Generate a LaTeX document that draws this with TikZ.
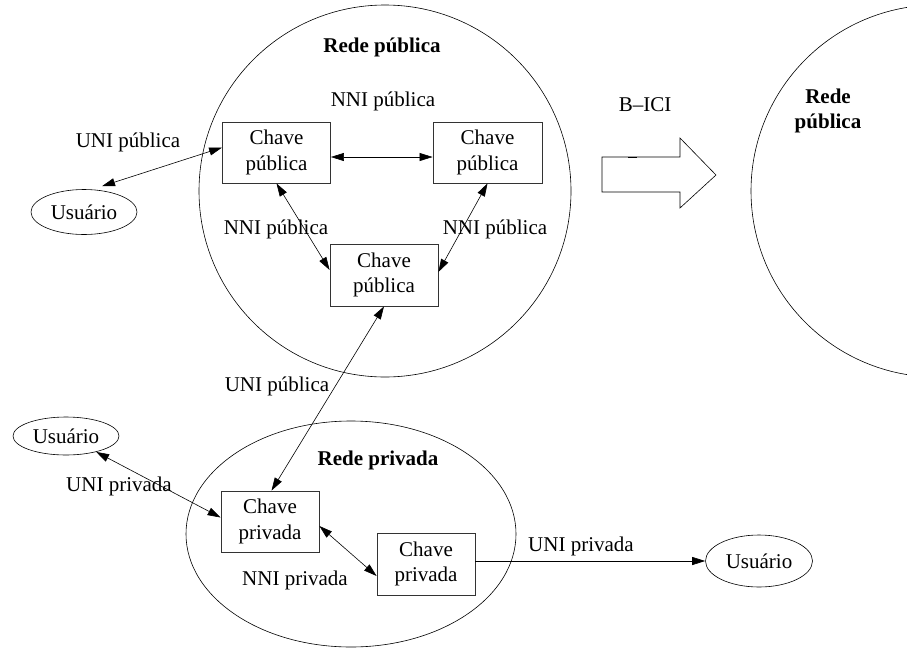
\documentclass[tikz,border=0pt]{standalone}
\usepackage{fontspec}
\setmainfont{Liberation Serif}
\usetikzlibrary{arrows.meta,shapes.geometric,calc}

\tikzset{
  txt/.style={font=\fontsize{21}{25.5}\selectfont, inner sep=0pt, align=center},
  bold/.style={txt, font=\fontsize{21}{25.5}\selectfont\bfseries},
  chave/.style={txt, draw=black!80, line width=0.8pt, rectangle, minimum height=61pt},
  user/.style={txt, draw, line width=0.6pt, ellipse, inner sep=0pt},
  net/.style={draw, line width=0.6pt, circle, minimum size=372pt, inner sep=0pt},
  tip/.tip={Triangle[length=13pt,width=8pt]},
  link/.style={line width=0.6pt, tip-tip},
  onelink/.style={line width=0.6pt, -tip}
}

\begin{document}
\begin{tikzpicture}[x=1pt, y=-1pt]
\useasboundingbox (0,0) rectangle (907,648);
\begin{scope}
\clip (0,0) rectangle (907,648);

% networks
\node[net] (pub) at (385,191) {};
\node[net] (pub2) at (937,191) {};
\node[draw, line width=0.6pt, ellipse, minimum width=330pt, minimum height=226pt, inner sep=0pt] (priv) at (351,534) {};

% switches
\node[chave, minimum width=108pt] (A) at (276.5,152.5) {Chave\\pública};
\node[chave, minimum width=109pt] (B) at (487.5,152.5) {Chave\\pública};
\node[chave, minimum width=108pt, minimum height=62pt] (C) at (384,275) {Chave\\pública};
\node[chave, minimum width=98pt] (D) at (270,521.5) {Chave\\privada};
\node[chave, minimum width=98pt, minimum height=62pt] (E) at (426,564) {Chave\\privada};

% users
\node[user, minimum width=106pt, minimum height=45pt] (U1) at (84,212) {Usuário};
\node[user, minimum width=106pt, minimum height=38pt] (U2) at (66,436) {Usuário};
\node[user, minimum width=107pt, minimum height=52pt] (U3) at (759,561) {Usuário};

% titles
\node[bold] (t1) at (382,47) {Rede pública};
\node[bold] (t2) at (828,111) {Rede\\pública};
\node[bold] (t3) at (378,460) {Rede privada};

% interface labels
\node[txt] (l1) at (383,101) {NNI pública};
\node[txt] (l2) at (128,142) {UNI pública};
\node[txt] (l3) at (276,229) {NNI pública};
\node[txt] (l4) at (495,229) {NNI pública};
\node[txt] (l5) at (277,386) {UNI pública};
\node[txt] (l6) at (119,486) {UNI privada};
\node[txt] (l7) at (295,580) {NNI privada};
\node[txt] (l8) at (581,546) {UNI privada};
\node[txt] (l9) at (645,105) {B–ICI};

% connections
\draw[link] ($(U1.north)+(18,-3)$) -- ($(A.west)+(0,-5)$);
\draw[link] ($(A.east)+(0,4.5)$) -- ($(B.west)+(0,4.5)$);
\draw[link] (A.south) -- ($(C.west)+(0,-5)$);
\draw[link] (B.south) -- ($(C.east)+(0,-3)$);
\draw[link] (C.south) -- ($(D.north)+(1.5,0)$);
\draw[link] (U2) -- ($(D.west)+(0,-4)$);
\draw[link] ($(D.east)+(0,4.5)$) -- ($(E.west)+(0,12)$);
\draw[onelink] (U3.west -| E.east) -- (U3.west);

% interconnection arrow
\draw[line width=0.6pt] (602,157) -- (680,157) -- (680,138) -- (716,175)
  -- (680,208) -- (680,192) -- (602,192) -- cycle;
\draw[line width=1.4pt] (628,157.5) -- (637,157.5);
\end{scope}
\end{tikzpicture}
\end{document}
